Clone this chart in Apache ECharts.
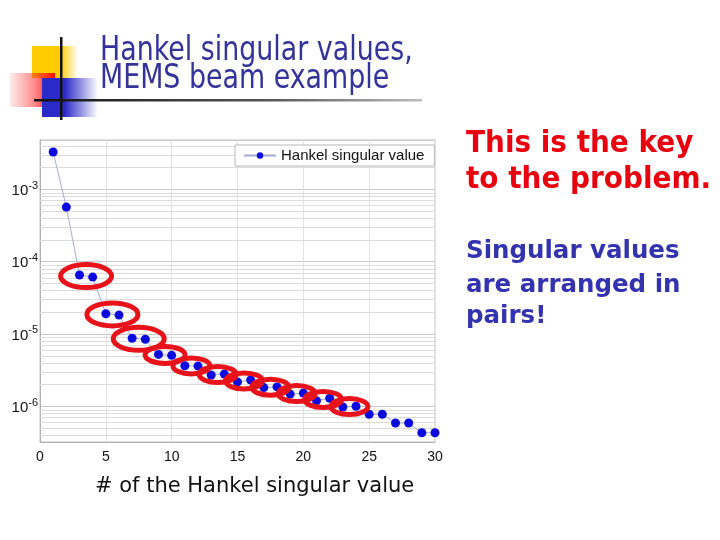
<!DOCTYPE html>
<html>
<head>
<meta charset="utf-8">
<script src="https://cdn.jsdelivr.net/npm/echarts@6/dist/echarts.min.js"></script>
<style>
html,body{margin:0;padding:0;background:#fff;}
#chart{width:720px;height:540px;}
</style>
</head>
<body>
<div id="chart"></div>
<script>
// ---- data ----
const indices = [1,2,3,4,5,6,7,8,9,10,11,12,13,14,15,16,17,18,19,20,21,22,23,24,25,26,27,28,29,30];
const hsv = [3.27e-3, 5.67e-4, 6.52e-5, 6.1e-5, 1.90e-5, 1.82e-5, 8.7e-6, 8.4e-6, 5.2e-6, 5.05e-6,
             3.63e-6, 3.59e-6, 2.70e-6, 2.78e-6, 2.17e-6, 2.30e-6, 1.81e-6, 1.85e-6, 1.47e-6, 1.52e-6,
             1.19e-6, 1.29e-6, 9.77e-7, 1.0e-6, 7.74e-7, 7.74e-7, 5.86e-7, 5.86e-7, 4.30e-7, 4.30e-7];
const pairStarts = [3,5,7,9,11,13,15,17,19,21,23];
const xTicks = [0,5,10,15,20,25,30];
const yMajorTicks = [1e-6,1e-5,1e-4,1e-3];
const seriesName = 'Hankel singular value';
const xTitle = '# of the Hankel singular value';
const titleLines = ['Hankel singular values,', 'MEMS beam example'];
const keyLines = ['This is the key', 'to the problem.'];
const pairLines = ['Singular values', 'are arranged in', 'pairs!'];

const yMin = 3.2e-7, yMax = 4.8e-3;
const yMinorGrid = [];
for (let d = -7; d <= -3; d++) {
  for (let k = 2; k <= 9; k++) {
    const v = k * Math.pow(10, d);
    if (v > yMin && v < yMax) yMinorGrid.push(v);
  }
}

const chart = echarts.init(document.getElementById('chart'), null, {renderer: 'canvas'});

function txt(x, y, text, size, color, weight, scaleX, family) {
  return {
    type: 'text', x: x, y: y, scaleX: scaleX || 1, silent: true,
    style: {
      text: text, fill: color, fontSize: size, fontWeight: weight || 'normal',
      fontFamily: family || '"DejaVu Sans"', verticalAlign: 'middle', align: 'left'
    }
  };
}

const graphics = [
  {type:'rect', shape:{x:32,y:46,width:46,height:32}, silent:true,
   style:{fill:{type:'linear',x:0,y:0,x2:1,y2:0,colorStops:[{offset:0,color:'#ffcc00'},{offset:0.62,color:'#ffcc00'},{offset:1,color:'rgba(255,204,0,0)'}]}}},
  {type:'rect', shape:{x:10,y:73,width:45,height:34}, silent:true,
   style:{fill:{type:'linear',x:0,y:0,x2:1,y2:0,colorStops:[{offset:0,color:'rgba(255,70,70,0.12)'},{offset:0.55,color:'rgba(255,40,40,0.55)'},{offset:1,color:'#ff0a0a'}]}}},
  {type:'rect', shape:{x:42,y:78,width:56,height:39}, silent:true,
   style:{fill:{type:'linear',x:0,y:0,x2:1,y2:0,colorStops:[{offset:0,color:'#2a2ac8'},{offset:0.4,color:'#2a2ac8'},{offset:1,color:'rgba(42,42,200,0)'}]}}},
  {type:'rect', shape:{x:60,y:37,width:2.5,height:83}, silent:true, style:{fill:'#111'}},
  {type:'rect', shape:{x:34,y:99,width:388,height:2.5}, silent:true,
   style:{fill:{type:'linear',x:0,y:0,x2:1,y2:0,colorStops:[{offset:0,color:'#111'},{offset:0.6,color:'#555'},{offset:1,color:'#bbb'}]}}},
  txt(100, 51.5, titleLines[0], 34, '#333399', 'normal', 0.79),
  txt(100, 79, titleLines[1], 34, '#333399', 'normal', 0.79),
  txt(466, 143.6, keyLines[0], 31, '#e8000e', 'bold', 0.9),
  txt(466, 180.3, keyLines[1], 31, '#e8000e', 'bold', 0.9),
  txt(466, 251.5, pairLines[0], 24.5, '#3333b0', 'bold', 1),
  txt(466, 285.5, pairLines[1], 24.5, '#3333b0', 'bold', 1),
  txt(466, 317, pairLines[2], 24.5, '#3333b0', 'bold', 1),
  txt(95, 486.7, xTitle, 21, '#111', 'normal', 1)
];

const option = {
  animation: false,
  backgroundColor: '#fff',
  graphic: graphics,
  grid: {left: 40, right: 285, top: 140, bottom: 98, show: true, borderColor: '#c0c0c0', borderWidth: 1, backgroundColor: 'transparent'},
  legend: {
    data: [seriesName], left: 235, top: 145, orient: 'horizontal',
    padding: [3, 10, 3, 8], itemWidth: 32, itemHeight: 8, itemGap: 0,
    borderColor: '#b8b8b8', borderWidth: 1, backgroundColor: '#fff', borderRadius: 0,
    textStyle: {fontFamily: '"Liberation Sans"', fontSize: 15, color: '#111'}
  },
  xAxis: {
    type: 'value', min: xTicks[0], max: xTicks[xTicks.length-1], interval: 5,
    axisLine: {show: true, onZero: false, lineStyle: {color: '#b0b0b0'}},
    axisTick: {show: false},
    axisLabel: {margin: 8, color: '#111', fontSize: 14, fontFamily: '"Liberation Sans"'},
    splitLine: {show: true, lineStyle: {color: '#e2e2e2', width: 1}}
  },
  yAxis: {
    type: 'log', logBase: 10, min: yMin, max: yMax,
    axisLine: {show: true, lineStyle: {color: '#b0b0b0'}},
    axisTick: {show: false},
    splitLine: {show: true, lineStyle: {color: '#c8c8c8', width: 1}},
    axisLabel: {
      margin: 2, color: '#111', fontFamily: '"Liberation Sans"',
      showMinLabel: true, showMaxLabel: true,
      formatter: function (v) {
        const e = Math.log10(v), r = Math.round(e);
        if (Math.abs(e - r) > 1e-6) return '';
        if (!yMajorTicks.some(t => Math.abs(Math.log10(t) - r) < 1e-6)) return '';
        return '{b|10}{s|' + r + '}';
      },
      rich: {
        b: {fontSize: 15, lineHeight: 18, verticalAlign: 'bottom', fontFamily: '"Liberation Sans"', color: '#111'},
        s: {fontSize: 11, lineHeight: 13, verticalAlign: 'top', fontFamily: '"Liberation Sans"', color: '#111'}
      }
    }
  },
  series: [
    {
      type: 'custom', z: 1, silent: true,
      data: yMinorGrid.map(v => [0, v]),
      encode: {x: 0, y: 1},
      renderItem: function (params, api) {
        const cs = params.coordSys;
        const y = Math.round(api.coord([0, api.value(1)])[1]) + 0.5;
        return {type: 'line', shape: {x1: cs.x, y1: y, x2: cs.x + cs.width, y2: y},
                style: {stroke: '#dcdcdc', lineWidth: 1}, silent: true};
      }
    },
    {
      name: seriesName, type: 'line', z: 3,
      data: indices.map((x, i) => [x, hsv[i]]),
      symbol: 'circle', symbolSize: 9, showSymbol: true,
      itemStyle: {color: '#0a0ae0'},
      lineStyle: {color: '#a4abd8', width: 1}
    },
    {
      type: 'custom', z: 5, silent: true,
      data: pairStarts.map(i => [i, Math.sqrt(hsv[i-1] * hsv[i])]),
      encode: {x: 0, y: 1},
      renderItem: function (params, api) {
        const i = api.value(0);
        const p1 = api.coord([i, hsv[i-1]]);
        const p2 = api.coord([i + 1, hsv[i]]);
        const k = params.dataIndex;
        const rx = k < 3 ? 25.5 : (k === 3 ? 20 : 18.5);
        const ry = k < 3 ? 11.5 : (k === 3 ? 8.5 : 8);
        return {type: 'ellipse', shape: {cx: (p1[0] + p2[0]) / 2, cy: (p1[1] + p2[1]) / 2, rx: rx, ry: ry},
                style: {fill: 'none', stroke: '#e8121a', lineWidth: 5}, silent: true};
      }
    }
  ]
};
chart.setOption(option);
</script>
</body>
</html>
